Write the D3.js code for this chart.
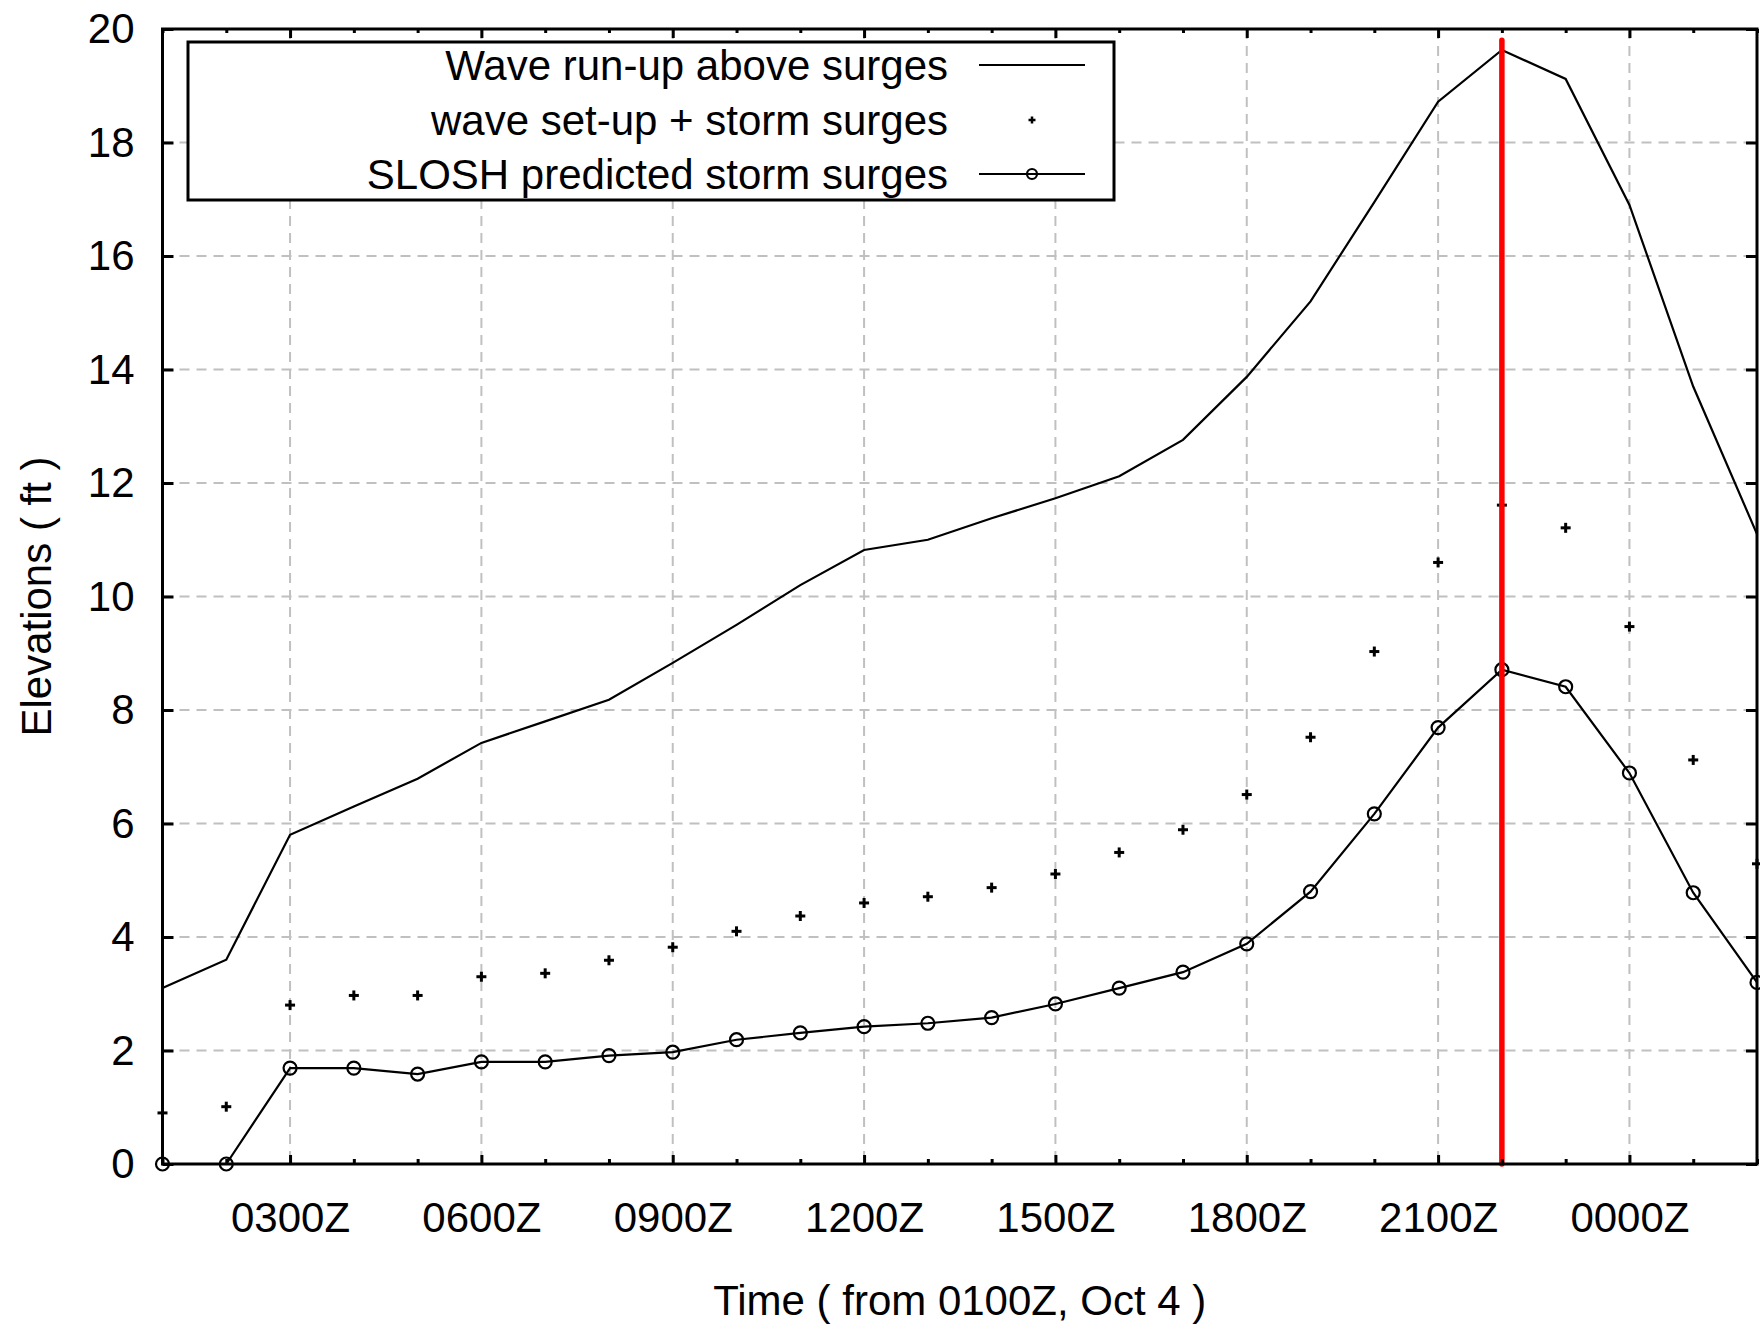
<!DOCTYPE html>
<html>
<head>
<meta charset="utf-8">
<script src="https://cdn.jsdelivr.net/npm/d3@7"></script>
<style>
  body { margin: 0; background: #fff; }
  svg { display: block; font-family: "Liberation Sans", Arial, sans-serif; }
</style>
</head>
<body>
<svg id="chart" width="1760" height="1327"></svg>
<script>
// hours after 0100Z, Oct 4
const hours = [0, 1, 2, 3, 4, 5, 6, 7, 8, 9, 10, 11, 12, 13, 14, 15, 16, 17, 18, 19, 20, 21, 22, 23, 24, 25];

const waveRunUp = [3.10, 3.60, 5.80, 6.30, 6.79, 7.42, 7.80, 8.18, 8.83, 9.50, 10.20, 10.82, 11.00,
  11.38, 11.73, 12.12, 12.76, 13.87, 15.20, 16.95, 18.72, 19.63, 19.12, 16.90, 13.70, 11.10];

const waveSetUp = [0.90, 1.01, 2.80, 2.97, 2.97, 3.30, 3.36, 3.59, 3.82, 4.10, 4.37, 4.60, 4.71,
  4.87, 5.11, 5.49, 5.89, 6.51, 7.52, 9.03, 10.60, 11.61, 11.21, 9.47, 7.12, 5.29];

const sloshSurge = [0, 0, 1.69, 1.69, 1.585, 1.80, 1.80, 1.91, 1.97, 2.19, 2.31, 2.42, 2.48,
  2.58, 2.82, 3.10, 3.38, 3.88, 4.80, 6.17, 7.69, 8.71, 8.41, 6.89, 4.78, 3.20];

const labelHours = [2, 5, 8, 11, 14, 17, 20, 23];
const labelTexts = ['0300Z', '0600Z', '0900Z', '1200Z', '1500Z', '1800Z', '2100Z', '0000Z'];
const yTicks = [0, 2, 4, 6, 8, 10, 12, 14, 16, 18, 20];

const landfallHour = 21;
const landfallTop = 19.8;

const legendLabels = ['Wave run-up above surges', 'wave set-up + storm surges', 'SLOSH predicted storm surges'];

const margin = {top: 29, right: 3, bottom: 163, left: 162.5};
const width = 1760;
const height = 1327;
const fontSize = 42;

const svg = d3.select('#chart');

const x = d3.scaleLinear()
  .domain([0, 25])
  .range([margin.left, width - margin.right]);

const y = d3.scaleLinear()
  .domain([0, 20])
  .range([height - margin.bottom, margin.top]);

const minorHours = hours.filter(h => labelHours.indexOf(h) < 0);

// grid
const grid = svg.append('g')
  .attr('stroke', '#c0c0c0')
  .attr('stroke-width', 2)
  .attr('stroke-dasharray', '10,7');

grid.selectAll('line.hgrid')
  .data(yTicks.filter(v => v > 0 && v < 20))
  .enter()
  .append('line')
  .attr('class', 'hgrid')
  .attr('x1', x(0))
  .attr('x2', x(25))
  .attr('y1', d => y(d))
  .attr('y2', d => y(d));

grid.selectAll('line.vgrid')
  .data(labelHours)
  .enter()
  .append('line')
  .attr('class', 'vgrid')
  .attr('x1', d => x(d))
  .attr('x2', d => x(d))
  .attr('y1', y(20))
  .attr('y2', y(0));

// series
const line = d3.line()
  .x((d, i) => x(hours[i]))
  .y(d => y(d));

svg.append('path')
  .datum(waveRunUp)
  .attr('fill', 'none')
  .attr('stroke', '#000')
  .attr('stroke-width', 2.2)
  .attr('d', line);

svg.append('path')
  .datum(sloshSurge)
  .attr('fill', 'none')
  .attr('stroke', '#000')
  .attr('stroke-width', 2.2)
  .attr('d', line);

svg.append('g')
  .selectAll('circle')
  .data(sloshSurge)
  .enter()
  .append('circle')
  .attr('cx', (d, i) => x(hours[i]))
  .attr('cy', d => y(d))
  .attr('r', 6.5)
  .attr('fill', 'none')
  .attr('stroke', '#000')
  .attr('stroke-width', 2.2);

const plus = (sel, size, sw) => {
  sel.append('line').attr('x1', -size).attr('x2', size).attr('y1', 0).attr('y2', 0);
  sel.append('line').attr('x1', 0).attr('x2', 0).attr('y1', -size).attr('y2', size);
  sel.attr('stroke', '#000').attr('stroke-width', sw);
};

svg.append('g')
  .selectAll('g')
  .data(waveSetUp)
  .enter()
  .append('g')
  .attr('transform', (d, i) => 'translate(' + x(hours[i]) + ',' + y(d) + ')')
  .each(function () { plus(d3.select(this), 5, 3); });

// landfall marker
svg.append('line')
  .attr('x1', x(landfallHour))
  .attr('x2', x(landfallHour))
  .attr('y1', y(0))
  .attr('y2', y(landfallTop))
  .attr('stroke', '#ff0000')
  .attr('stroke-width', 5.5)
  .attr('stroke-linecap', 'round');

// axes (ticks point inward)
const styleAxis = g => {
  g.select('.domain').remove();
  g.selectAll('.tick line').attr('stroke', '#000').attr('stroke-width', 3);
  g.selectAll('text').attr('font-size', fontSize).attr('fill', '#000')
    .attr('font-family', '"Liberation Sans", Arial, sans-serif');
};

svg.append('g')
  .attr('transform', 'translate(0,' + y(0) + ')')
  .call(d3.axisBottom(x).tickValues(labelHours).tickSizeInner(-9).tickSizeOuter(0)
    .tickFormat((d, i) => labelTexts[i]))
  .call(styleAxis)
  .call(g => g.selectAll('text').attr('y', 68).attr('dy', null));

svg.append('g')
  .attr('transform', 'translate(0,' + y(0) + ')')
  .call(d3.axisBottom(x).tickValues(minorHours).tickSizeInner(-5).tickSizeOuter(0).tickFormat(''))
  .call(styleAxis);

svg.append('g')
  .attr('transform', 'translate(0,' + y(20) + ')')
  .call(d3.axisTop(x).tickValues(labelHours).tickSizeInner(-9).tickSizeOuter(0).tickFormat(''))
  .call(styleAxis);

svg.append('g')
  .attr('transform', 'translate(0,' + y(20) + ')')
  .call(d3.axisTop(x).tickValues(minorHours).tickSizeInner(-4).tickSizeOuter(0).tickFormat(''))
  .call(styleAxis);

svg.append('g')
  .attr('transform', 'translate(' + x(0) + ',0)')
  .call(d3.axisLeft(y).tickValues(yTicks).tickSizeInner(-11).tickSizeOuter(0).tickFormat(d3.format('d')))
  .call(styleAxis)
  .call(g => g.selectAll('text').attr('x', -28).attr('dy', '0.33em'));

svg.append('g')
  .attr('transform', 'translate(' + x(25) + ',0)')
  .call(d3.axisRight(y).tickValues(yTicks).tickSizeInner(-11).tickSizeOuter(0).tickFormat(''))
  .call(styleAxis);

// frame
svg.append('rect')
  .attr('x', x(0))
  .attr('y', y(20))
  .attr('width', x(25) - x(0))
  .attr('height', y(0) - y(20))
  .attr('fill', 'none')
  .attr('stroke', '#000')
  .attr('stroke-width', 3);

// axis titles
svg.append('text')
  .attr('x', (x(0) + x(25)) / 2)
  .attr('y', 1315)
  .attr('text-anchor', 'middle')
  .attr('font-size', fontSize)
  .text('Time ( from 0100Z, Oct 4 )');

svg.append('text')
  .attr('transform', 'translate(51,' + ((y(0) + y(20)) / 2) + ') rotate(-90)')
  .attr('text-anchor', 'middle')
  .attr('font-size', fontSize)
  .text('Elevations ( ft )');

// legend
const legend = svg.append('g');
legend.append('rect')
  .attr('x', 188)
  .attr('y', 42)
  .attr('width', 926)
  .attr('height', 158)
  .attr('fill', '#fff')
  .attr('stroke', '#000')
  .attr('stroke-width', 3);

const rowY = [65, 120, 174];
legend.selectAll('text')
  .data(legendLabels)
  .enter()
  .append('text')
  .attr('x', 948)
  .attr('y', (d, i) => rowY[i] + 15)
  .attr('text-anchor', 'end')
  .attr('font-size', fontSize)
  .text(d => d);

legend.append('line')
  .attr('x1', 979).attr('x2', 1085)
  .attr('y1', rowY[0]).attr('y2', rowY[0])
  .attr('stroke', '#000').attr('stroke-width', 2.2);

legend.append('g')
  .attr('transform', 'translate(1032,' + rowY[1] + ')')
  .call(g => plus(g, 3.5, 2.5));

legend.append('line')
  .attr('x1', 979).attr('x2', 1085)
  .attr('y1', rowY[2]).attr('y2', rowY[2])
  .attr('stroke', '#000').attr('stroke-width', 2.2);

legend.append('circle')
  .attr('cx', 1032).attr('cy', rowY[2]).attr('r', 5)
  .attr('fill', 'none').attr('stroke', '#000').attr('stroke-width', 2.2);
</script>
</body>
</html>
